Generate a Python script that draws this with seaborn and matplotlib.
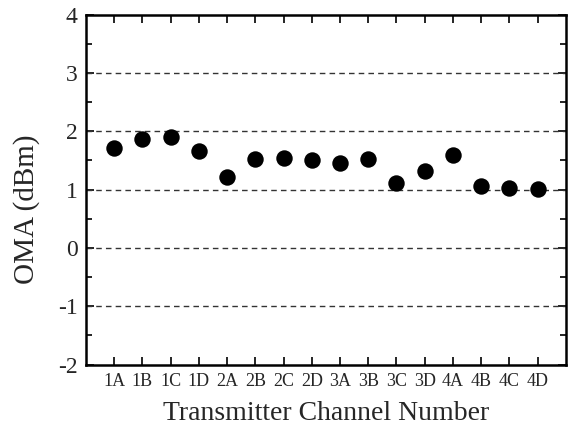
import matplotlib
matplotlib.use("Agg")
import matplotlib.pyplot as plt
import seaborn as sns
import pandas as pd
from matplotlib.ticker import MultipleLocator

channels = ["1A", "1B", "1C", "1D", "2A", "2B", "2C", "2D",
            "3A", "3B", "3C", "3D", "4A", "4B", "4C", "4D"]
oma_dbm = [1.71, 1.86, 1.91, 1.67, 1.22, 1.52, 1.54, 1.51,
           1.45, 1.53, 1.11, 1.32, 1.59, 1.06, 1.03, 1.01]

df = pd.DataFrame({"channel": channels, "oma": oma_dbm})

sns.set_style("white")
plt.rcParams["font.family"] = ["Liberation Serif", "DejaVu Serif"]
plt.rcParams["axes.unicode_minus"] = False

fig = plt.figure(figsize=(5.71, 4.30), dpi=100)
ax = fig.add_axes([0.1506, 0.152, 0.8404, 0.814])

for yv in [-1, 0, 1, 2, 3]:
    ax.axhline(yv, color="#333333", lw=1.0, ls=(0, (4, 3)), zorder=1)

sns.scatterplot(data=df, x="channel", y="oma", ax=ax, color="black",
                s=140, edgecolor="black", linewidth=0, zorder=3, legend=False)

ax.set_xlim(-1, 16)
ax.set_ylim(-2, 4)
ax.yaxis.set_major_locator(MultipleLocator(1))
ax.yaxis.set_minor_locator(MultipleLocator(0.5))
ax.set_xticks(range(len(channels)))
ax.set_xticklabels(channels, fontsize=13)
ax.tick_params(axis="y", labelsize=17)
ax.tick_params(which="both", direction="in", top=True, right=True,
               bottom=True, left=True, color="black", width=1.2)
ax.tick_params(which="major", length=6, pad=6)
ax.tick_params(which="minor", length=4)
ax.tick_params(axis="x", which="minor", bottom=False, top=False)

for sp in ax.spines.values():
    sp.set_visible(True)
    sp.set_color("black")
    sp.set_linewidth(1.8)

ax.set_xlabel("Transmitter Channel Number", fontsize=20, labelpad=8)
ax.set_ylabel("OMA (dBm)", fontsize=21)
ax.yaxis.set_label_coords(-0.096, 0.445)

fig.savefig("out.png", dpi=100)
